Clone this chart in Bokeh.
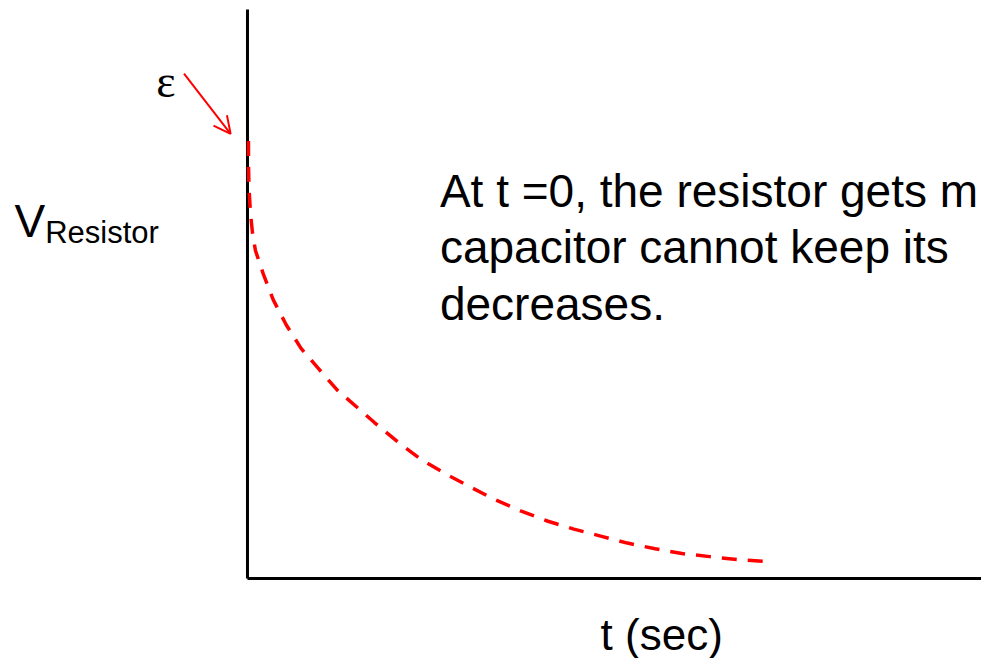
from bokeh.plotting import figure
from bokeh.models import Range1d, Arrow, OpenHead, ColumnDataSource
from bokeh.core.properties import value
from bokeh.embed import file_html
from bokeh.resources import INLINE

# --- data (t in arbitrary seconds, V in units of emf) ---
t_vals = [0.01, 0.01, 0.015, 0.03, 0.05, 0.08, 0.16, 0.26, 0.39, 0.54, 0.71, 0.91, 1.11, 1.28,
          1.53, 1.76, 2.01, 2.26, 2.49, 2.76, 3.03, 3.29, 3.56, 3.83, 4.11, 4.38, 4.66, 4.94, 5.29]
v_vals = [1.002, 0.950, 0.894, 0.837, 0.792, 0.751, 0.697, 0.638, 0.581, 0.527, 0.482, 0.430,
          0.391, 0.357, 0.310, 0.271, 0.238, 0.208, 0.181, 0.154, 0.131, 0.113, 0.097, 0.081,
          0.068, 0.057, 0.050, 0.043, 0.038]

note_lines = ["At t =0, the resistor gets m", "capacitor cannot keep its", "decreases."]
x_label = "t (sec)"
y_label_main = "V"
y_label_sub = "Resistor"
emf_label = "\u03b5"

X_START, X_END = -2.49, 7.40
Y_START, Y_END = -0.1833, 1.3235
AXIS_TOP = 1.303

p = figure(width=981, height=658, output_backend="svg", toolbar_location=None,
           x_range=Range1d(X_START, X_END), y_range=Range1d(Y_START, Y_END),
           min_border=0, min_border_left=0, min_border_right=0,
           min_border_top=0, min_border_bottom=0)
p.axis.visible = False
p.grid.visible = False
p.outline_line_color = None
p.background_fill_color = "white"
p.border_fill_color = "white"

# axes drawn as lines through the origin
p.segment(x0=[0, 0], y0=[0, 0], x1=[0, X_END], y1=[AXIS_TOP, 0],
          line_color="black", line_width=3)

# decay curve
src = ColumnDataSource(dict(t=t_vals, v=v_vals))
p.line("t", "v", source=src, line_color="#ff0000", line_width=3.5, line_dash="15 11")

# annotation text
p.text(x=[1.94, 1.94, 1.94], y=[0.887, 0.758, 0.629], text=note_lines,
       text_font=value("Liberation Sans"), text_font_size="46px",
       text_color="black", text_baseline="alphabetic", text_align="left")

p.text(x=[3.56], y=[-0.128], text=[x_label],
       text_font=value("Liberation Sans"), text_font_size="44px",
       text_color="black", text_baseline="alphabetic", text_align="left")

p.text(x=[-2.35], y=[0.819], text=[y_label_main],
       text_font=value("Liberation Sans"), text_font_size="46px",
       text_color="black", text_baseline="alphabetic", text_align="left")
p.text(x=[-2.04], y=[0.792], text=[y_label_sub],
       text_font=value("Liberation Sans"), text_font_size="31px",
       text_color="black", text_baseline="alphabetic", text_align="left")

p.text(x=[-0.92], y=[1.138], text=[emf_label],
       text_font=value("Liberation Serif"), text_font_size="46px",
       text_color="black", text_baseline="alphabetic", text_align="left")

p.add_layout(Arrow(end=OpenHead(size=17, line_color="#ff0000", line_width=2),
                   x_start=-0.64, y_start=1.156, x_end=-0.17, y_end=1.018,
                   line_color="#ff0000", line_width=2))

open("out.html", "w").write(file_html(p, INLINE))
